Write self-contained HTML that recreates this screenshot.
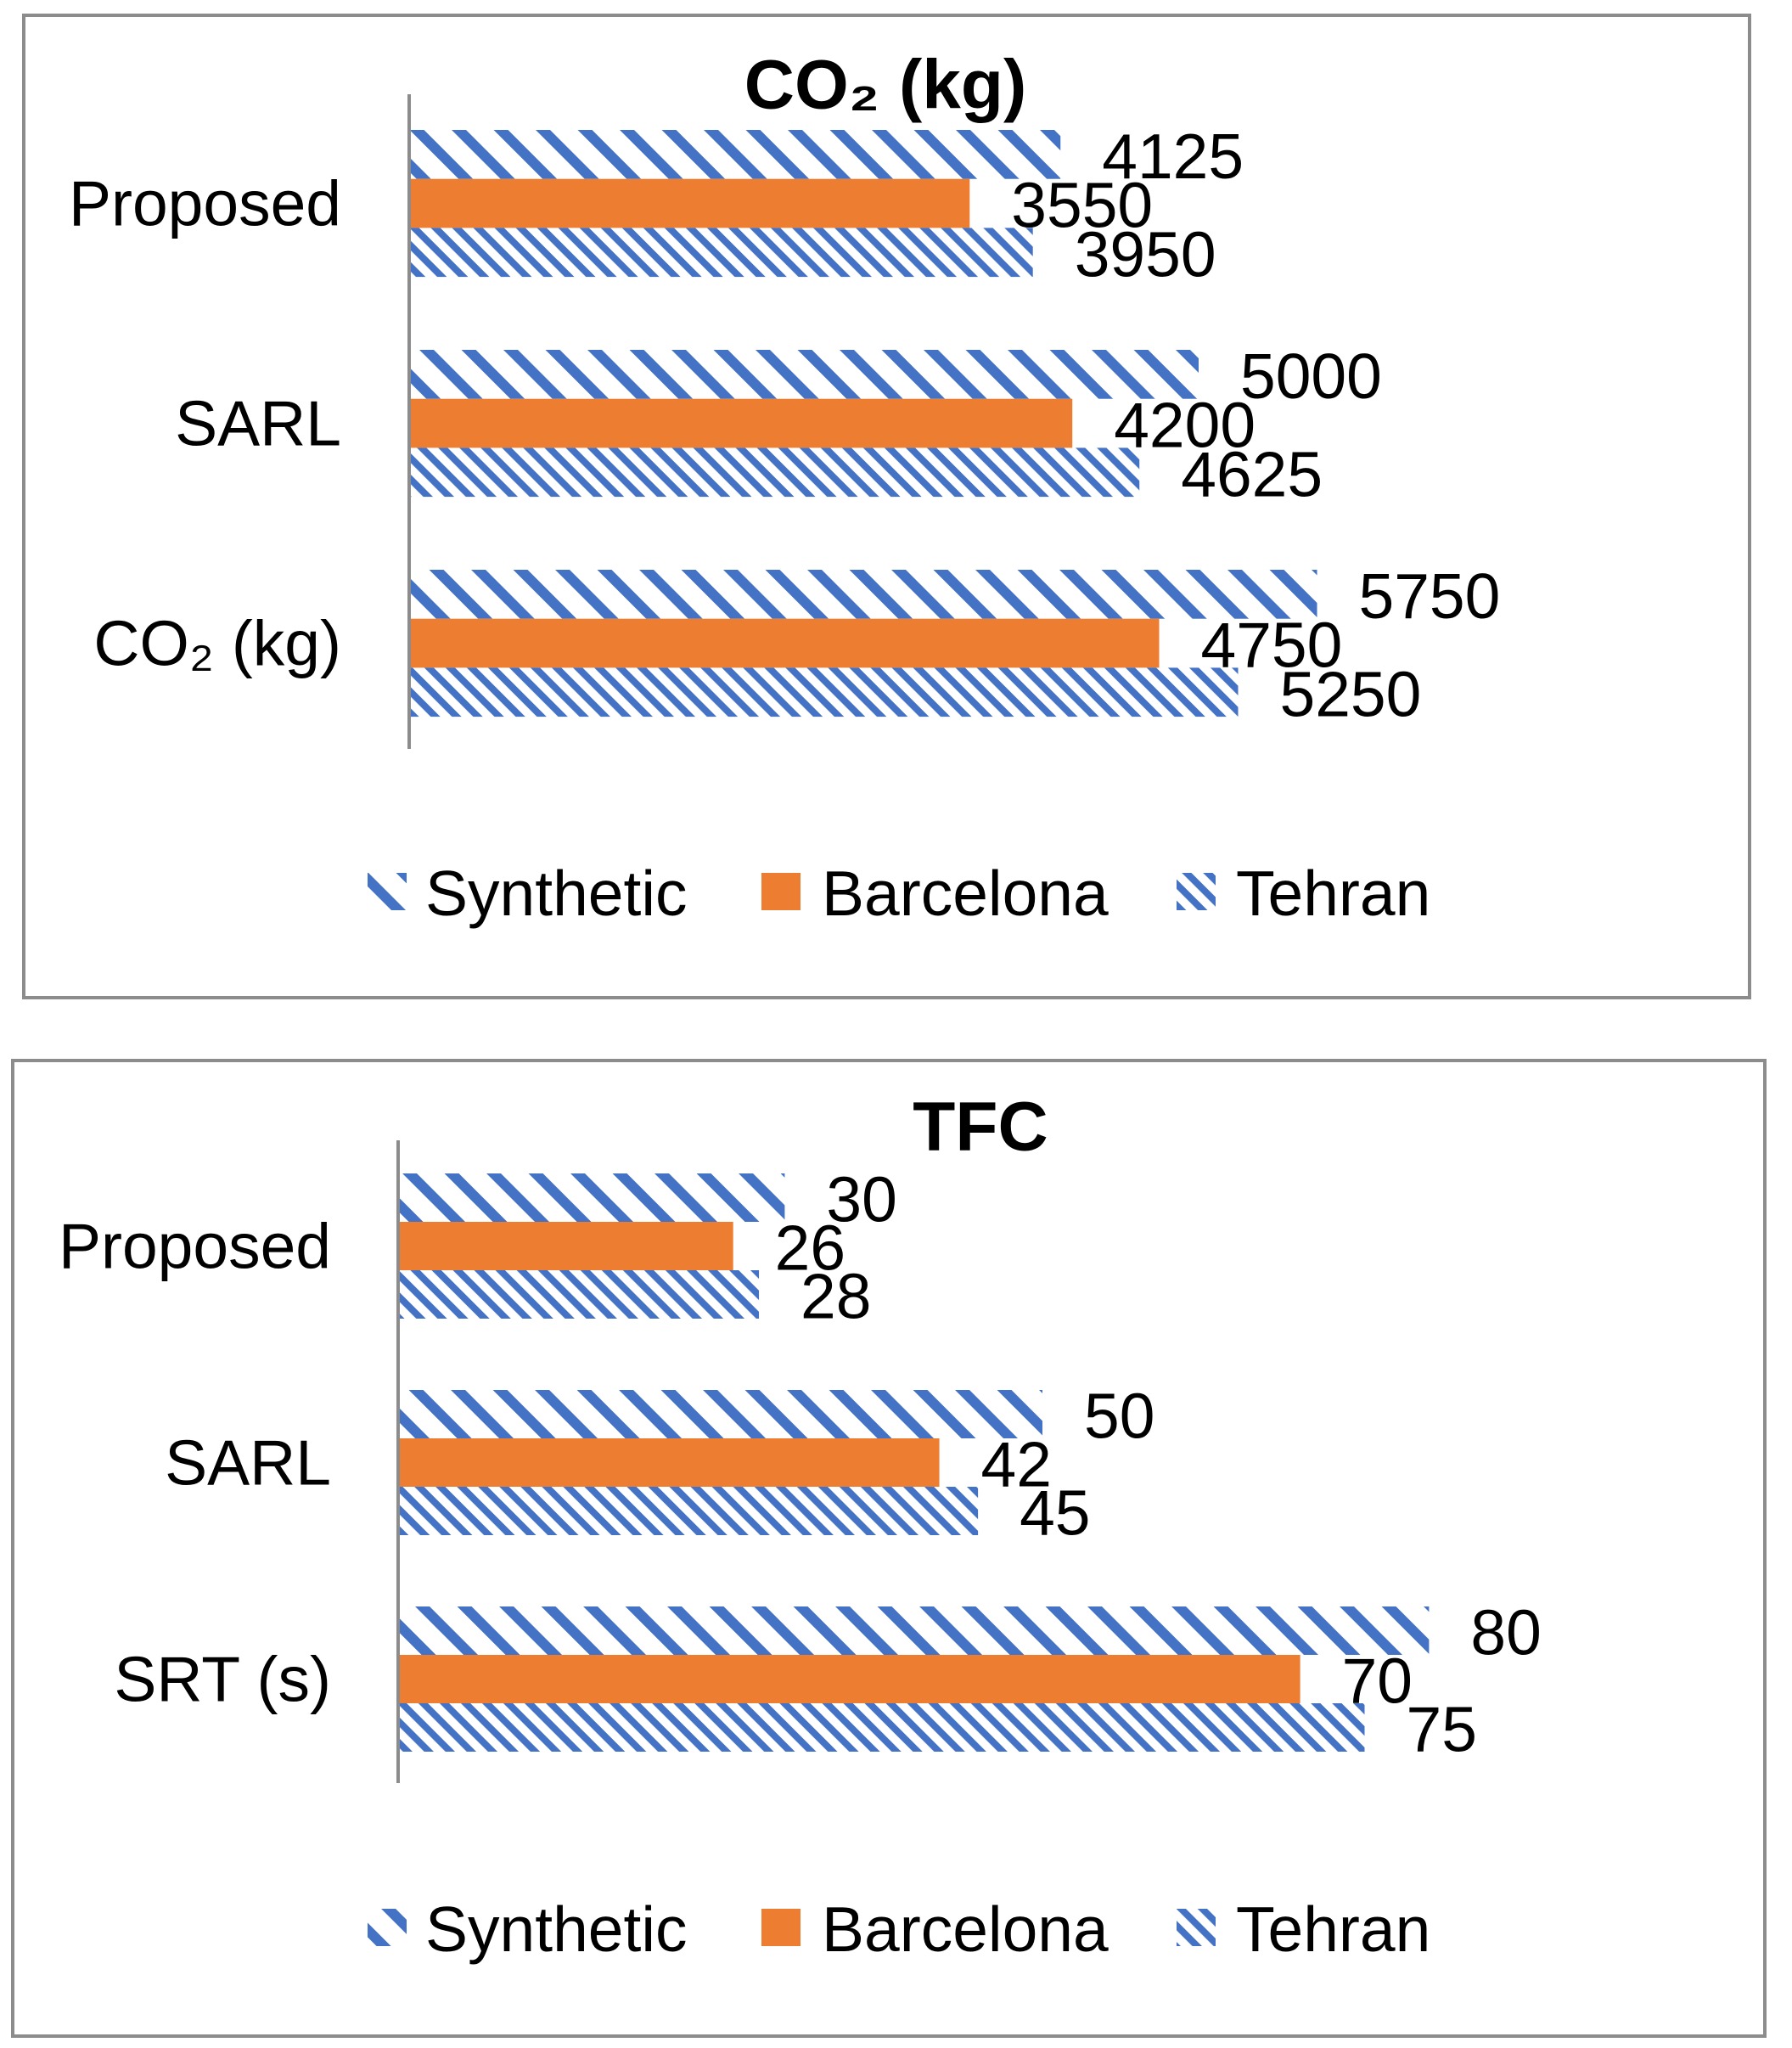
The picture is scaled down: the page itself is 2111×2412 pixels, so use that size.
<!DOCTYPE html>
<html><head><meta charset="utf-8"><style>
html,body{margin:0;padding:0;background:#fff;}
svg{display:block;font-family:"Liberation Sans",sans-serif;}
</style></head><body>
<svg id="c" width="2111" height="2412" viewBox="0 0 2111 2412" xmlns="http://www.w3.org/2000/svg">
<defs>
<pattern id="pSyn" patternUnits="userSpaceOnUse" width="35" height="35" patternTransform="rotate(45)">
<rect x="0" y="0" width="35" height="12" fill="#4472c4"/></pattern>
<pattern id="pTeh" patternUnits="userSpaceOnUse" width="17.7" height="17.7" patternTransform="rotate(45)">
<rect x="0" y="0" width="17.7" height="8" fill="#4472c4"/></pattern>
</defs>
</svg>
<script>
const series = ['Synthetic','Barcelona','Tehran'];
const co2Categories = ['Proposed','SARL','CO₂ (kg)'];
const co2Synthetic = [4125,5000,5750];
const co2Barcelona = [3550,4200,4750];
const co2Tehran = [3950,4625,5250];
const tfcCategories = ['Proposed','SARL','SRT (s)'];
const tfcSynthetic = [30,50,80];
const tfcBarcelona = [26,42,70];
const tfcTehran = [28,45,75];

const NS='http://www.w3.org/2000/svg';
const svg=document.getElementById('c');
function mk(tag,attrs,parent){const e=document.createElementNS(NS,tag);for(const k in attrs)e.setAttribute(k,attrs[k]);(parent||svg).appendChild(e);return e;}
const fills=['url(#pSyn)','#ed7d31','url(#pTeh)'];

function panel(cfg){
  const g=mk('g',{});
  
  
  const box=mk('rect',{x:cfg.box[0],y:cfg.box[1],width:cfg.box[2],height:cfg.box[3],fill:'none',stroke:'#8c8c8c','stroke-width':4},g);
  
  
  const t=mk('text',{x:cfg.title[0],y:cfg.title[1],'text-anchor':'middle','dominant-baseline':'central','font-size':82,'font-weight':'bold'},g);
  t.textContent=cfg.titleText;
  
  
  const xs=v=>cfg.axisX+v*cfg.scale;
  const data=[cfg.s1,cfg.s2,cfg.s3];
  cfg.cats.forEach((c,i)=>{
    const top=cfg.groupTop+i*cfg.groupStep;
    const lab=mk('text',{x:cfg.labelRight,y:top+cfg.barH*1.5,'text-anchor':'end','dominant-baseline':'central','font-size':75},g);
    lab.textContent=c;
    
    
    for(let s=0;s<3;s++){
      const y=top+s*cfg.barH, v=data[s][i];
      const r=mk('rect',{x:cfg.axisX,y:y,width:xs(v)-cfg.axisX,height:cfg.barH,fill:fills[s]},g);
      
      
      const vt=mk('text',{x:xs(v)+49,y:y+cfg.barH/2+2,'dominant-baseline':'central','font-size':75},g);
      vt.textContent=v;
      
      
    }
  });
  const ax=mk('line',{x1:cfg.axisX,x2:cfg.axisX,y1:cfg.axisY[0],y2:cfg.axisY[1],stroke:'#8c8c8c','stroke-width':4},g);
  
  
  const sw=[433,897,1386], tx=[501,968,1456];
  series.forEach((s,i)=>{
    const lg=mk('g',{},g);
    
    
    mk('rect',{x:sw[i],y:cfg.legendY-22,width:46,height:44,fill:fills[i]},lg);
    const lt=mk('text',{x:tx[i],y:cfg.legendY+2,'dominant-baseline':'central','font-size':75},lg);
    lt.textContent=s;
  });
}
panel({name:'co2-chart',box:[28,18,2033,1157],title:[1043,100],titleText:'CO₂ (kg)',
  cats:co2Categories,s1:co2Synthetic,s2:co2Barcelona,s3:co2Tehran,
  axisX:482,axisY:[111,882],scale:0.186,groupTop:153,groupStep:259,barH:57.7,labelRight:402,legendY:1050});
panel({name:'tfc-chart',box:[15,1249,2064,1149],title:[1155,1327],titleText:'TFC',
  cats:tfcCategories,s1:tfcSynthetic,s2:tfcBarcelona,s3:tfcTehran,
  axisX:469,axisY:[1343,2100],scale:15.18,groupTop:1382,groupStep:255,barH:57,labelRight:390,legendY:2270});
</script>
</body></html>
